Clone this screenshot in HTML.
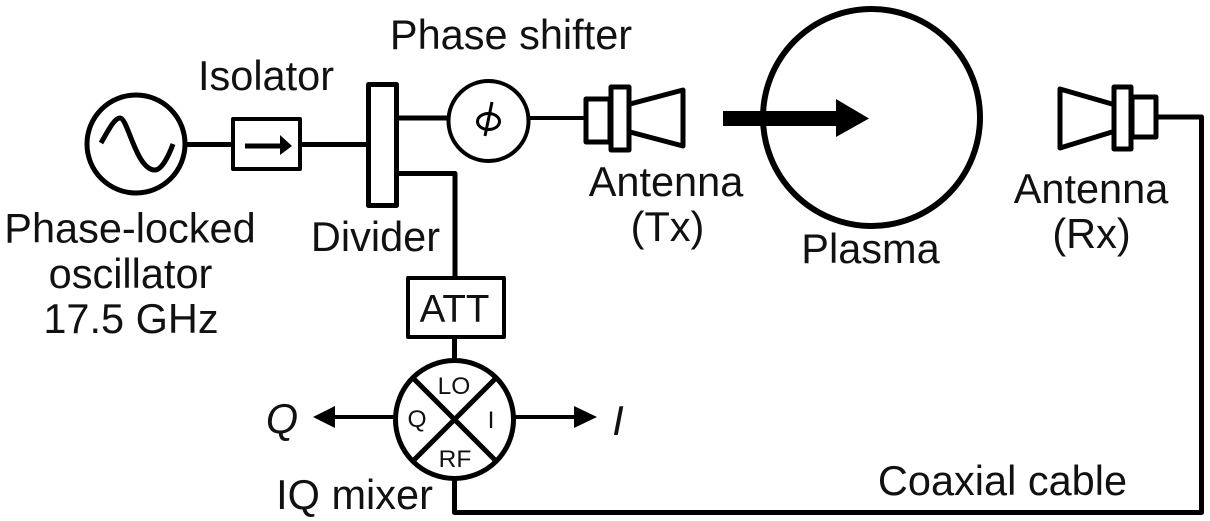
<!DOCTYPE html>
<html>
<head>
<meta charset="utf-8">
<style>
html,body{margin:0;padding:0;background:#fff;width:1210px;height:521px;overflow:hidden}
svg{display:block}
text{font-family:"Liberation Sans",sans-serif;fill:#111}
</style>
</head>
<body>
<svg width="1210" height="521" viewBox="0 0 1210 521" xmlns="http://www.w3.org/2000/svg">
<g fill="none" stroke="#000" stroke-linejoin="round">
  <!-- connectors -->
  <path d="M185 144.500H233M299 144.500H368" stroke-width="5"/>
  <path d="M397 118H449" stroke-width="5"/>
  <path d="M397 173.500H455V278" stroke-width="5"/>
  <path d="M528 118H586" stroke-width="4"/>
  <path d="M454.500 337V360" stroke-width="5"/>
  <path d="M454.500 479V512.500H1201.500V117H1156" stroke-width="5"/>
  <path d="M395 417H332M514 417H576" stroke-width="4"/>
  <!-- oscillator -->
  <circle cx="136" cy="144" r="49" stroke-width="5"/>
  <path d="M101 143C110 127 115 118 120 118C128 118 136 170 155 170C161 170 168 158 173 144" stroke-width="5"/>
  <!-- isolator -->
  <rect x="233" y="119" width="67" height="50" stroke-width="4"/>
  <path d="M245 146H282" stroke-width="5"/>
  <path d="M280 135L292 146L280 155Z" fill="#000" stroke="none"/>
  <!-- divider -->
  <rect x="368.500" y="84.500" width="28" height="121" stroke-width="5"/>
  <!-- phase shifter -->
  <circle cx="488.500" cy="121" r="40" stroke-width="4"/>
  <!-- Tx antenna -->
  <rect x="586" y="99" width="24" height="43" stroke-width="5"/>
  <rect x="611" y="87" width="18" height="63" stroke-width="5"/>
  <path d="M630 104L683 90V146L630 132" stroke-width="5"/>
  <!-- plasma -->
  <circle cx="871.500" cy="117.500" r="108.500" stroke-width="6"/>
  <!-- Rx antenna -->
  <path d="M1112 104L1060 89V148L1112 132" stroke-width="5"/>
  <rect x="1114" y="87" width="17" height="62" stroke-width="5"/>
  <rect x="1132" y="97" width="24" height="40" stroke-width="5"/>
  <!-- ATT -->
  <rect x="408" y="278" width="96" height="59" stroke-width="4"/>
  <!-- mixer -->
  <circle cx="454.500" cy="419.500" r="59" stroke-width="5"/>
  <path d="M412.500 377.500L496.500 461.500M496.500 377.500L412.500 461.500" stroke-width="5"/>
</g>
<!-- big arrow -->
<path d="M723 111H836V99L869 118.500L836 137V126H723Z" fill="#000"/>
<!-- mixer arrows -->
<path d="M313 417L335 406V428Z" fill="#000"/>
<path d="M597 417L574 406V428Z" fill="#000"/>
<!-- phi -->
<g fill="none" stroke="#000">
  <ellipse cx="488.500" cy="121.500" rx="11" ry="8" stroke-width="3"/>
  <path d="M492 102L485 136" stroke-width="3"/>
</g>
<!-- labels -->
<g font-size="41.500" text-anchor="middle">
  <text x="511" y="49">Phase shifter</text>
  <text x="266" y="90">Isolator</text>
  <text x="130" y="242.500">Phase-locked</text>
  <text x="130.500" y="288">oscillator</text>
  <text x="131" y="333">17.5 GHz</text>
  <text x="375.500" y="251">Divider</text>
  <text x="666" y="196">Antenna</text>
  <text x="667.500" y="241">(Tx)</text>
  <text x="870.500" y="263">Plasma</text>
  <text x="1091" y="203">Antenna</text>
  <text x="1091.500" y="248">(Rx)</text>
  <text x="1002.500" y="495">Coaxial cable</text>
  <text x="354.500" y="509">IQ mixer</text>
  <text x="282" y="433" font-style="italic">Q</text>
  <text x="618" y="435" font-style="italic">I</text>
</g>
<text x="454.500" y="322" font-size="38.500" text-anchor="middle">ATT</text>
<g font-size="24.500" text-anchor="middle">
  <text x="454" y="394">LO</text>
  <text x="417" y="427">Q</text>
  <text x="491" y="428">I</text>
  <text x="455" y="467">RF</text>
</g>
</svg>
</body>
</html>
